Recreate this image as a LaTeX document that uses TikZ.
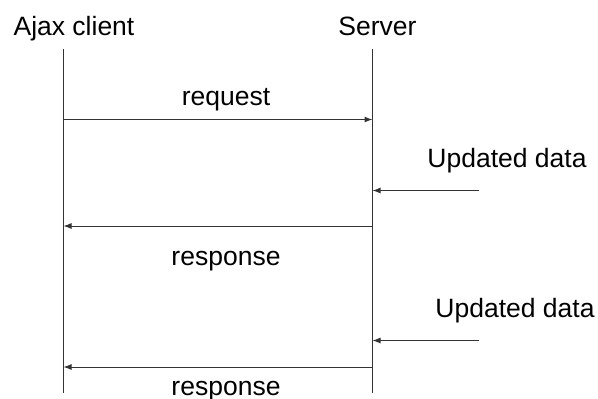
\documentclass[tikz,border=0pt]{standalone}
\usepackage{fontspec}
\setmainfont{Liberation Sans}
\usetikzlibrary{arrows.meta}
\begin{document}
\begin{tikzpicture}[x=1pt,y=-1pt,
  lbl/.style={anchor=base,inner sep=0pt,text=black,font=\fontsize{26.5}{31}\selectfont},
  life/.style={draw=black!80,line width=1pt},
  msg/.style={draw=black!80,line width=1pt,-{Latex[length=8pt,width=6pt]}}]
  \useasboundingbox (0,0) rectangle (598,399);

  % participants
  \node[lbl] (client) at (74,35) {Ajax client};
  \node[lbl] (server) at (377.5,35) {Server};

  % lifelines
  \coordinate (cTop) at (63.5,49);
  \coordinate (cBot) at (63.5,393);
  \coordinate (sTop) at (372.5,49);
  \coordinate (sBot) at (372.5,393);
  \draw[life] (cTop) -- (cBot);
  \draw[life] (sTop) -- (sBot);

  % message end points on the lifelines
  \coordinate (cReq) at (63.5,119.5);
  \coordinate (sReq) at (372.5,119.5);
  \coordinate (sUp1) at (372.5,190.5);
  \coordinate (eUp1) at (479,190.5);
  \coordinate (sRes1) at (372.5,226);
  \coordinate (cRes1) at (63.5,226);
  \coordinate (sUp2) at (372.5,340.5);
  \coordinate (eUp2) at (479,340.5);
  \coordinate (sRes2) at (372.5,367);
  \coordinate (cRes2) at (63.5,367);

  % messages
  \draw[msg] (cReq) -- (sReq);
  \draw[msg] (eUp1) -- (sUp1);
  \draw[msg] (sRes1) -- (cRes1);
  \draw[msg] (eUp2) -- (sUp2);
  \draw[msg] (sRes2) -- (cRes2);

  % labels
  \node[lbl] (lReq) at (226,105) {request};
  \node[lbl] (lUp1) at (507,167) {Updated data};
  \node[lbl] (lRes1) at (226,265) {response};
  \node[lbl] (lUp2) at (515,317) {Updated data};
  \node[lbl] (lRes2) at (226,395) {response};
\end{tikzpicture}
\end{document}
